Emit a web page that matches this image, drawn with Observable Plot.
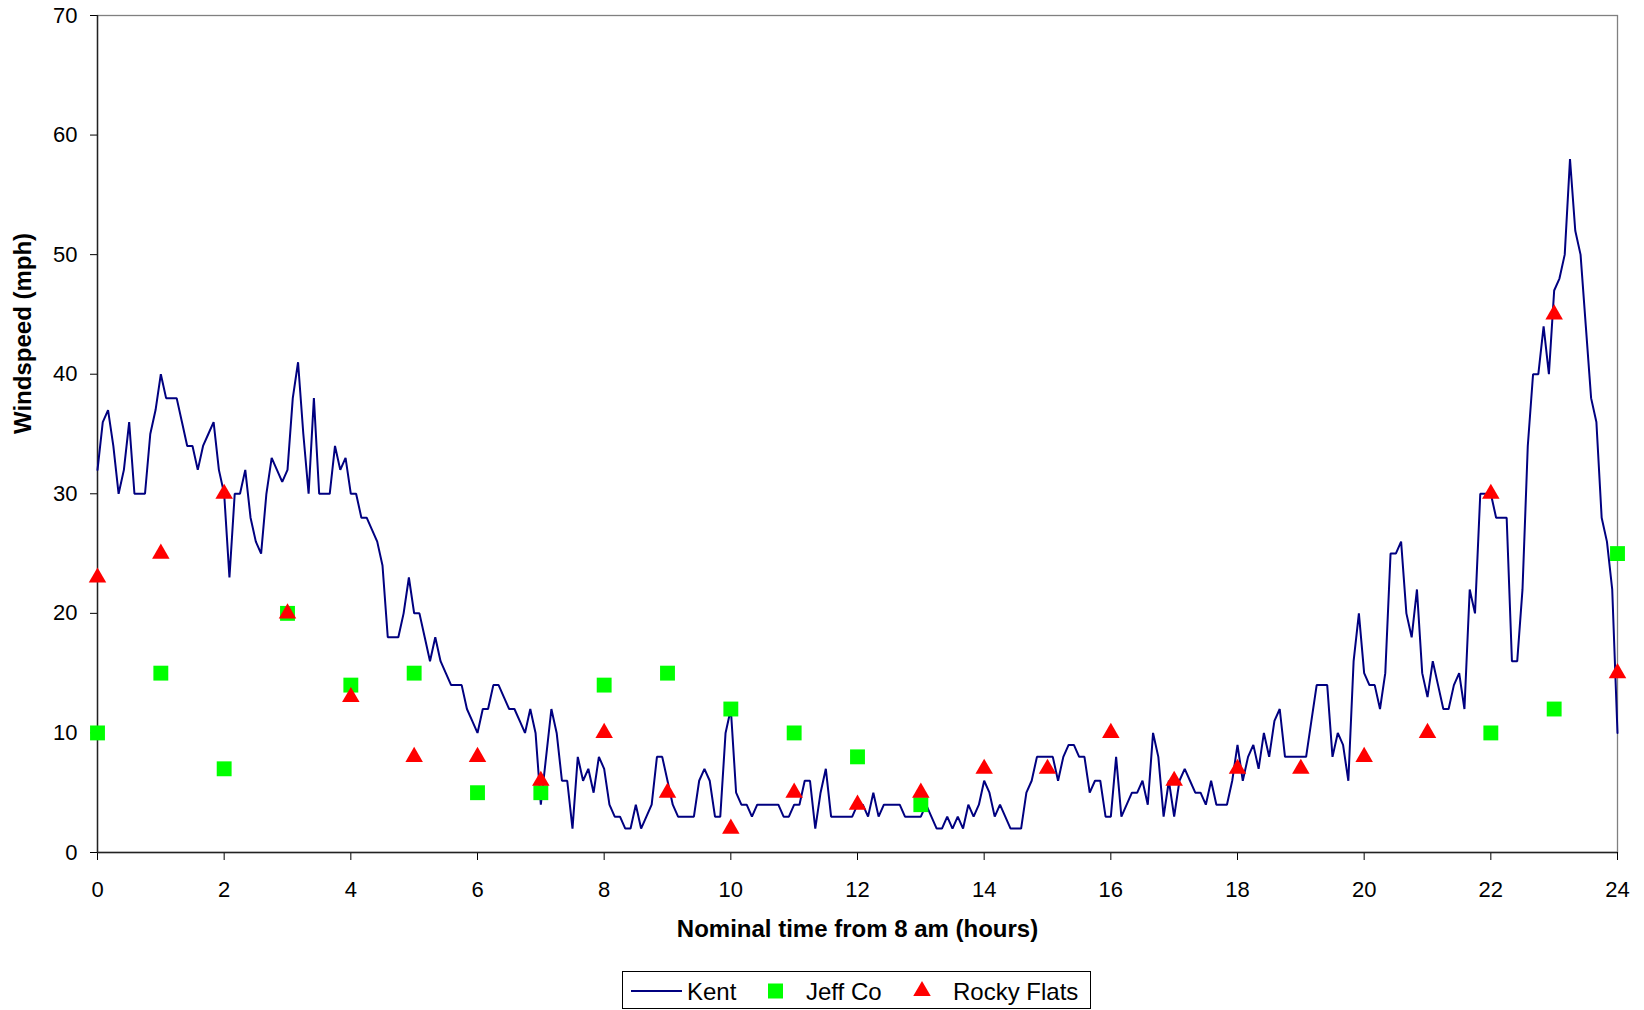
<!DOCTYPE html>
<html>
<head>
<meta charset="utf-8">
<script src="https://cdn.jsdelivr.net/npm/d3@7"></script>
<script src="https://cdn.jsdelivr.net/npm/@observablehq/plot@0.6"></script>
<style>
  html, body { margin: 0; padding: 0; background: #fff; }
  body { font-family: "Liberation Sans", Arial, sans-serif; }
  #wrap { position: relative; width: 1644px; height: 1010px; overflow: hidden; }
  #legend { position: absolute; left: 622px; top: 971px; width: 469px; height: 38px;
            border: 1px solid #000; box-sizing: border-box; background: #fff; }
  #legend svg { display: block; }
</style>
</head>
<body>
<div id="wrap">
  <div id="chart"></div>
  <div id="legend"></div>
</div>
<script>
// ---- Data ----
// Kent: one reading every 5 minutes, hours 0..24
const kentIntervalMinutes = 5;
const kentSpeed = [
  32,36,37,34,30,32,36,30,30,30,35,37,
  40,38,38,38,36,34,34,32,34,35,36,32,
  30,23,30,30,32,28,26,25,30,33,32,31,
  32,38,41,35,30,38,30,30,30,34,32,33,
  30,30,28,28,27,26,24,18,18,18,20,23,
  20,20,18,16,18,16,15,14,14,14,12,11,
  10,12,12,14,14,13,12,12,11,10,12,10,
  4,8,12,10,6,6,2,8,6,7,5,8,
  7,4,3,3,2,2,4,2,3,4,8,8,
  6,4,3,3,3,3,6,7,6,3,3,10,
  12,5,4,4,3,4,4,4,4,4,3,3,
  4,4,6,6,2,5,7,3,3,3,3,3,
  4,4,3,5,3,4,4,4,4,3,3,3,
  3,4,3,2,2,3,2,3,2,4,3,4,
  6,5,3,4,3,2,2,2,5,6,8,8,
  8,8,6,8,9,9,8,8,5,6,6,3,
  3,8,3,4,5,5,6,4,10,8,3,6,
  3,6,7,6,5,5,4,6,4,4,4,6,
  9,6,8,9,7,10,8,11,12,8,8,8,
  8,8,11,14,14,14,8,10,9,6,16,20,
  15,14,14,12,15,25,25,26,20,18,22,15,
  13,16,14,12,12,14,15,12,22,20,30,30,
  30,28,28,28,16,16,22,34,40,40,44,40,
  47,48,50,58,52,50,44,38,36,28,26,22,
  10
];

const jeffHours = [0,1,2,3,4,5,6,7,8,9,10,11,12,13,22,23,24];
const jeffSpeed = [10,15,7,20,14,15,5,5,14,15,12,10,8,4,10,12,25];

const rockyHours = [0,1,2,3,4,5,6,7,8,9,10,11,12,13,14,15,16,17,18,19,20,21,22,23,24];
const rockySpeed = [23,25,30,20,13,8,8,6,10,5,2,5,4,5,7,7,10,6,7,7,8,10,30,45,15];

const xTicks = [0,2,4,6,8,10,12,14,16,18,20,22,24];
const yTicks = [0,10,20,30,40,50,60,70];

const seriesNames = ["Kent", "Jeff Co", "Rocky Flats"];
const seriesColors = ["#000080", "#00ff00", "#ff0000"];

// ---- Tables for Plot ----
const kent = kentSpeed.map((v, i) => ({hour: i * kentIntervalMinutes / 60, speed: v}));
const jeff = jeffHours.map((h, i) => ({hour: h, speed: jeffSpeed[i]}));
const rocky = rockyHours.map((h, i) => ({hour: h, speed: rockySpeed[i]}));

const font = "'Liberation Sans', Arial, Helvetica, sans-serif";
const triR = 6.5;

const chart = Plot.plot({
  width: 1644,
  height: 962,
  marginLeft: 97,
  marginRight: 27,
  marginTop: 15,
  marginBottom: 110,
  style: {fontFamily: font, fontSize: "22px", color: "#000", background: "#fff", overflow: "visible"},
  x: {domain: [0, 24]},
  y: {domain: [0, 70]},
  marks: [
    Plot.frame({stroke: "#808080", strokeWidth: 1.3}),
    Plot.axisX({ticks: xTicks, tickSize: 8, tickPadding: 21, label: null, fontSize: 22, tickFormat: d => String(d)}),
    Plot.axisY({ticks: yTicks, tickSize: 7, tickPadding: 13, label: null, fontSize: 22, tickFormat: d => String(d)}),
    Plot.ruleX([0], {stroke: "#222", strokeWidth: 1.4}),
    Plot.ruleY([0], {stroke: "#222", strokeWidth: 1.4}),
    Plot.line(kent, {x: "hour", y: "speed", stroke: seriesColors[0], strokeWidth: 2, strokeLinejoin: "miter"}),
    Plot.dot(jeff, {x: "hour", y: "speed", symbol: "square", r: 8.4, fill: seriesColors[1], stroke: "none"}),
    Plot.dot(rocky, {x: "hour", y: "speed", symbol: "triangle", r: triR, fill: seriesColors[2], stroke: "none"}),
    Plot.text(["Windspeed (mph)"], {frameAnchor: "left", dx: -74, rotate: -90, fontWeight: "bold", fontSize: 24, fill: "#000"}),
    Plot.text(["Nominal time from 8 am (hours)"], {frameAnchor: "bottom", dy: 84, fontWeight: "bold", fontSize: 24, fill: "#000"})
  ]
});
document.getElementById("chart").appendChild(chart);

// ---- Legend (below the SVG) ----
const lg = d3.select("#legend").append("svg")
  .attr("width", 467).attr("height", 36)
  .style("font-family", font).style("font-size", "24px");
const cy = 19;
lg.append("line").attr("x1", 8).attr("x2", 59).attr("y1", cy).attr("y2", cy)
  .attr("stroke", seriesColors[0]).attr("stroke-width", 2);
lg.append("text").attr("x", 64).attr("y", cy).attr("dy", "0.36em").text(seriesNames[0]);
lg.append("rect").attr("x", 145).attr("y", cy - 7.5).attr("width", 15).attr("height", 15).attr("fill", seriesColors[1]);
lg.append("text").attr("x", 183).attr("y", cy).attr("dy", "0.36em").text(seriesNames[1]);
lg.append("path").attr("transform", `translate(299,${cy})`)
  .attr("d", d3.symbol(d3.symbolTriangle, Math.PI * triR * triR)()).attr("fill", seriesColors[2]);
lg.append("text").attr("x", 330).attr("y", cy).attr("dy", "0.36em").text(seriesNames[2]);
</script>
</body>
</html>
